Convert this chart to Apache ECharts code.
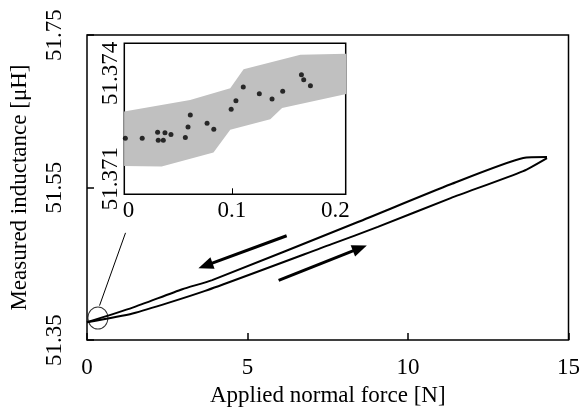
<!DOCTYPE html>
<html>
<head>
<meta charset="utf-8">
<script src="https://cdn.jsdelivr.net/npm/echarts@6/dist/echarts.min.js"></script>
<style>
  html, body { margin: 0; padding: 0; background: #fff; }
  #chart { width: 587px; height: 412px; }
</style>
</head>
<body>
<div id="chart"></div>
<script>
// main loop: loading (lower branch) and unloading (upper branch)
const loadForce = [0.0, 1.42, 3.68, 7.62, 9.06, 11.33, 13.59, 14.33];
const loadInductance = [51.3735, 51.3848, 51.4145, 51.4758, 51.4984, 51.5362, 51.5716, 51.5887];
const unloadForce = [0.0, 1.42, 2.97, 3.9, 8.44, 11.33, 13.59, 14.33];
const unloadInductance = [51.3735, 51.3926, 51.4167, 51.4287, 51.5048, 51.5543, 51.5887, 51.59];

// annotations in data units
const arrowUnload = [[6.22, 51.4868], [3.69, 51.4477]];
const arrowLoad = [[5.97, 51.4283], [8.5, 51.4705]];
const zoomCircle = [0.34, 51.379];
const zoomLink = [[0.39, 51.3952], [1.2, 51.4906]];

// inset: measured points near zero force
const insetForce = [-0.003, 0.0133, 0.0282, 0.0288, 0.0337, 0.0353, 0.0411, 0.055, 0.0576, 0.0598,
  0.076, 0.0825, 0.0993, 0.1039, 0.111, 0.1265, 0.1388, 0.1491, 0.1672, 0.1694, 0.1759];
const insetInductance = [51.37215, 51.37215, 51.37232, 51.37209, 51.37209, 51.37231, 51.37226,
  51.37217, 51.37247, 51.37281, 51.37258, 51.37241, 51.37298, 51.37322, 51.37361, 51.37342,
  51.37327, 51.37349, 51.37396, 51.37382, 51.37365];

// inset: grey band edges
const bandUpperForce = [-0.0042, 0.0596, 0.0984, 0.1113, 0.1662, 0.2106];
const bandUpper = [51.37291, 51.37324, 51.37358, 51.37412, 51.37453, 51.37456];
const bandLowerForce = [-0.0042, 0.0321, 0.0822, 0.0984, 0.1371, 0.1485, 0.2106];
const bandLower = [51.37136, 51.37134, 51.37174, 51.37239, 51.37269, 51.37301, 51.37341];

const insetXTicks = [0, 0.1, 0.2];
const insetYTicks = [51.371, 51.374];

const font = "Liberation Serif";
const fs = 23;

function pairs(xs, ys) {
  return xs.map((x, i) => [x, ys[i]]);
}

const chart = echarts.init(document.getElementById("chart"));

const option = {
  animation: false,
  textStyle: { fontFamily: font, color: "#000" },
  grid: [
    {
      left: 84, top: 35, width: 484.5, height: 310,
      show: true, borderColor: "#000", borderWidth: 1.5, backgroundColor: "transparent"
    },
    {
      left: 124.3, top: 43.3, width: 221.4, height: 151,
      show: true, borderColor: "#000", borderWidth: 1.5, backgroundColor: "#fff"
    }
  ],
  xAxis: [
    {
      gridIndex: 0, type: "value", min: 0, max: 15, interval: 5,
      axisLine: { show: false },
      axisTick: { show: true, inside: true, length: 7, lineStyle: { color: "#000", width: 1.5 } },
      splitLine: { show: false },
      axisLabel: { fontSize: fs, color: "#000", fontFamily: font, margin: 16 },
      name: "Applied normal force [N]",
      nameLocation: "middle",
      nameGap: 38,
      nameTextStyle: { fontSize: fs, color: "#000", fontFamily: font }
    },
    {
      gridIndex: 1, type: "value", min: -0.004, max: 0.21,
      axisLine: { show: false },
      axisTick: { show: true, inside: true, length: 6, customValues: [0.1], lineStyle: { color: "#000", width: 1 } },
      splitLine: { show: false },
      axisLabel: {
        fontSize: fs, color: "#000", fontFamily: font, margin: 5,
        customValues: insetXTicks, formatter: (v) => String(+v.toFixed(1))
      }
    }
  ],
  yAxis: [
    {
      gridIndex: 0, type: "value", min: 51.35, max: 51.75, interval: 0.2,
      axisLine: { show: false },
      axisTick: { show: true, inside: true, length: 7, lineStyle: { color: "#000", width: 1.5 } },
      splitLine: { show: false },
      axisLabel: {
        fontSize: fs, color: "#000", fontFamily: font, rotate: 90, margin: 21,
        formatter: (v) => v.toFixed(2)
      },
      name: "Measured inductance [μH]",
      nameLocation: "middle",
      nameRotate: 90,
      nameGap: 56,
      nameTextStyle: { fontSize: fs, color: "#000", fontFamily: font }
    },
    {
      gridIndex: 1, type: "value", min: 51.37055, max: 51.37486,
      axisLine: { show: false },
      axisTick: { show: false },
      splitLine: { show: false },
      axisLabel: {
        fontSize: fs, color: "#000", fontFamily: font, rotate: 90, margin: 2,
        customValues: insetYTicks, formatter: (v) => v.toFixed(3)
      }
    }
  ],
  series: [
    {
      type: "line",
      name: "loading",
      xAxisIndex: 0, yAxisIndex: 0,
      data: pairs(loadForce, loadInductance),
      showSymbol: false,
      smooth: 0.2,
      lineStyle: { color: "#000", width: 2 },
      markLine: {
        silent: true,
        symbol: ["none", "triangle"],
        symbolSize: [12, 15],
        label: { show: false },
        lineStyle: { color: "#000", width: 3, type: "solid" },
        data: [
          [{ coord: arrowUnload[0] }, { coord: arrowUnload[1] }],
          [{ coord: arrowLoad[0] }, { coord: arrowLoad[1] }]
        ]
      }
    },
    {
      type: "line",
      name: "unloading",
      xAxisIndex: 0, yAxisIndex: 0,
      data: pairs(unloadForce, unloadInductance),
      showSymbol: false,
      smooth: 0.2,
      lineStyle: { color: "#000", width: 2 }
    },
    {
      type: "scatter",
      xAxisIndex: 0, yAxisIndex: 0,
      data: [zoomCircle],
      symbol: "circle",
      symbolSize: [20, 22],
      itemStyle: { color: "transparent", borderColor: "#000", borderWidth: 1 }
    },
    {
      type: "line",
      xAxisIndex: 0, yAxisIndex: 0,
      data: zoomLink,
      showSymbol: false,
      lineStyle: { color: "#000", width: 1 }
    },
    {
      type: "custom",
      xAxisIndex: 1, yAxisIndex: 1,
      data: [[0, 51.372]],
      renderItem: function (params, api) {
        const upper = pairs(bandUpperForce, bandUpper);
        const lower = pairs(bandLowerForce, bandLower).reverse();
        const points = upper.concat(lower).map((p) => api.coord(p));
        return { type: "polygon", shape: { points: points }, style: { fill: "#c0c0c0" } };
      }
    },
    {
      type: "scatter",
      xAxisIndex: 1, yAxisIndex: 1,
      data: pairs(insetForce, insetInductance),
      symbolSize: 5,
      itemStyle: { color: "#000" }
    }
  ]
};

chart.setOption(option);
</script>
</body>
</html>
